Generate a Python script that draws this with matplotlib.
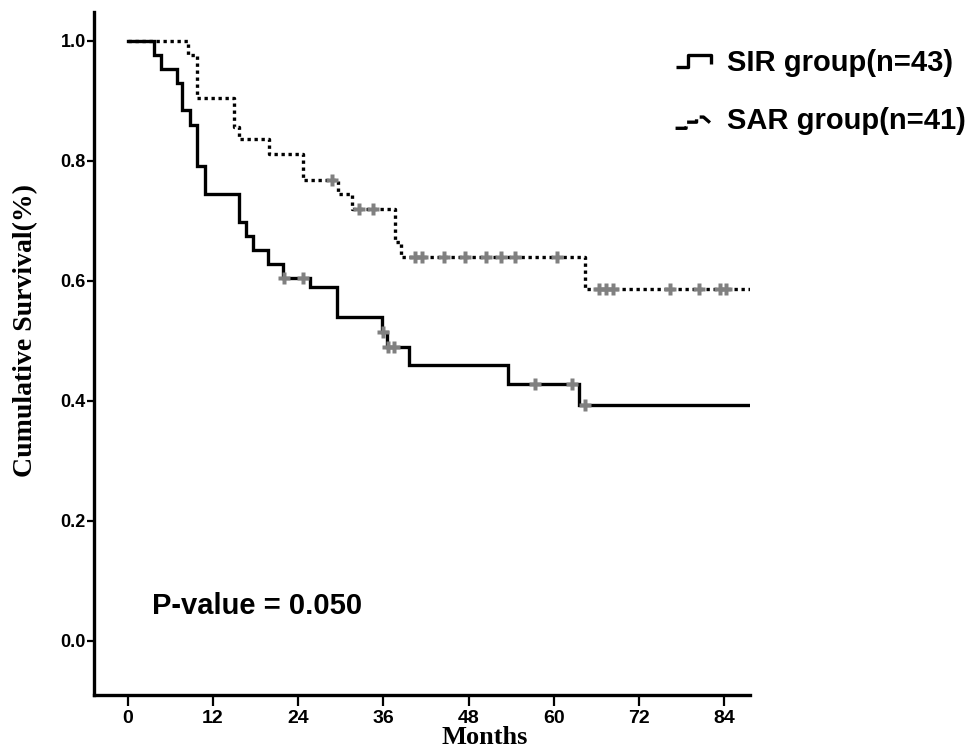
import matplotlib
matplotlib.use('Agg')
import matplotlib.pyplot as plt
from matplotlib.lines import Line2D
from matplotlib.legend_handler import HandlerBase

# SIR group: step times (months) and survival after each step
sir_times = [0, 3.7, 4.7, 7.0, 7.7, 8.8, 9.8, 10.9, 15.7, 16.6, 17.7, 19.8,
             21.8, 25.7, 29.5, 35.8, 36.5, 39.6, 53.5, 63.5]
sir_surv = [1.0, 0.977, 0.953, 0.930, 0.884, 0.860, 0.791, 0.744, 0.698, 0.674,
            0.651, 0.628, 0.605, 0.589, 0.540, 0.515, 0.490, 0.459, 0.428, 0.393]
sir_cens = [22.0, 24.7, 36.0, 36.7, 37.5, 57.4, 62.5, 64.4]

# SAR group
sar_times = [0, 8.5, 9.7, 14.9, 15.7, 19.9, 24.7, 29.6, 31.6, 37.6, 38.5, 64.4]
sar_surv = [1.0, 0.976, 0.905, 0.857, 0.837, 0.812, 0.768, 0.745, 0.720,
            0.664, 0.640, 0.586]
sar_cens = [28.7, 32.5, 34.6, 40.5, 41.4, 44.6, 47.5, 50.5, 52.5, 54.5, 60.5,
            66.4, 67.4, 68.4, 76.4, 80.4, 83.4, 84.2]

end_time = 87.6
xticks = [0, 12, 24, 36, 48, 60, 72, 84]
yticks = [0.0, 0.2, 0.4, 0.6, 0.8, 1.0]


def level_at(times, surv, t):
    s = surv[0]
    for ti, si in zip(times, surv):
        if ti <= t:
            s = si
    return s


class StepHandler(HandlerBase):
    def __init__(self, xs, ys, **kw):
        self.xs = xs
        self.ys = ys
        super().__init__(**kw)

    def create_artists(self, legend, orig_handle, xdescent, ydescent, width,
                       height, fontsize, trans):
        x = [-xdescent + v * width for v in self.xs]
        y = [-ydescent + v * height for v in self.ys]
        ln = Line2D(x, y, color='black', lw=orig_handle.get_linewidth(),
                    linestyle=orig_handle.get_linestyle(),
                    solid_capstyle='butt', dash_capstyle='butt')
        ln.set_transform(trans)
        return [ln]


fig = plt.figure(figsize=(9.7, 7.48), dpi=100)
ax = fig.add_axes([0.0969, 0.0709, 0.6761, 0.9131])

lw = 2.4
sx = sir_times + [end_time]
sy = sir_surv + [sir_surv[-1]]
h1, = ax.step(sx, sy, where='post', color='black', lw=lw,
              solid_joinstyle='miter', zorder=3)
ax.plot(sir_cens, [level_at(sir_times, sir_surv, t) for t in sir_cens],
        linestyle='none', marker='P', ms=8, color='#808080', mec='none',
        zorder=4)

ax2x = sar_times + [end_time]
ax2y = sar_surv + [sar_surv[-1]]
h2, = ax.step(ax2x, ax2y, where='post', color='black', lw=lw,
              linestyle=(0, (1, 1.1)), dash_capstyle='butt', zorder=3)
ax.plot(sar_cens, [level_at(sar_times, sar_surv, t) for t in sar_cens],
        linestyle='none', marker='P', ms=8, color='#808080', mec='none',
        zorder=4)

ax.set_xlim(-4.76, end_time)
ax.set_ylim(-0.09, 1.048)
ax.set_xticks(xticks)
ax.set_yticks(yticks)
ax.set_yticklabels(['%.1f' % v for v in yticks])

for s in ['top', 'right']:
    ax.spines[s].set_visible(False)
for s in ['left', 'bottom']:
    ax.spines[s].set_linewidth(2.4)

ax.tick_params(axis='y', direction='out', length=5, width=1.6, pad=1)
ax.tick_params(axis='x', direction='out', length=8, width=1.6, pad=3)
for lab in ax.get_yticklabels():
    lab.set_fontfamily(['Liberation Sans', 'DejaVu Sans'])
    lab.set_fontweight('bold')
    lab.set_fontsize(13)
for lab in ax.get_xticklabels():
    lab.set_fontfamily(['Liberation Sans Narrow', 'Liberation Sans', 'DejaVu Sans'])
    lab.set_fontweight('bold')
    lab.set_fontsize(14)

fig.text(0.026, 0.5575, 'Cumulative Survival(%)', rotation=90, ha='center',
         va='center', fontsize=20, fontweight='bold',
         family=['Liberation Serif', 'DejaVu Serif'])
fig.text(0.5, 0.0135, 'Months', ha='center', va='center', fontsize=19,
         fontweight='bold', family=['Liberation Serif', 'DejaVu Serif'])

ax.text(3.4, 0.058, 'P-value = 0.050', ha='left', va='center', fontsize=21,
        fontweight='bold', family=['Liberation Sans', 'DejaVu Sans'])

leg = fig.legend([h1, h2], ['SIR group(n=43)', 'SAR group(n=41)'],
                 loc='upper left', bbox_to_anchor=(0.6694, 0.97),
                 frameon=False, handlelength=1.2, handletextpad=0.55,
                 labelspacing=1.05,
                 prop={'family': ['Liberation Sans', 'DejaVu Sans'],
                       'weight': 'bold', 'size': 21},
                 handler_map={
                     h1: StepHandler([0, 0.35, 0.35, 1, 1],
                                     [0.2, 0.2, 0.75, 0.75, 0.35]),
                     h2: StepHandler([0, 0.3, 0.3, 0.6, 0.6, 0.8, 1],
                                     [0.05, 0.05, 0.35, 0.35, 0.6, 0.6, 0.3])})

fig.savefig('out.png', dpi=100)
